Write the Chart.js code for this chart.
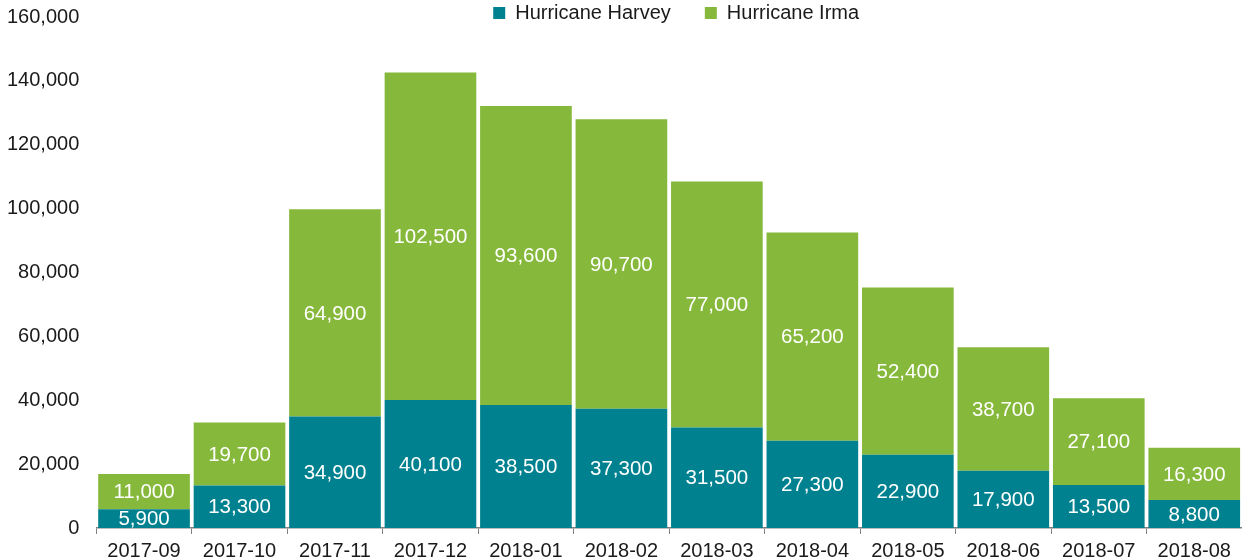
<!DOCTYPE html>
<html>
<head>
<meta charset="utf-8">
<script src="https://cdn.jsdelivr.net/npm/chart.js@4/dist/chart.umd.min.js"></script>
<style>
  html, body { margin: 0; padding: 0; background: #fff; }
  #wrap { width: 1242px; height: 560px; }
</style>
</head>
<body>
<div id="wrap"><canvas id="hurricaneChart"></canvas></div>
<script>
const months = ["2017-09", "2017-10", "2017-11", "2017-12", "2018-01", "2018-02",
                "2018-03", "2018-04", "2018-05", "2018-06", "2018-07", "2018-08"];
const harvey = [5900, 13300, 34900, 40100, 38500, 37300, 31500, 27300, 22900, 17900, 13500, 8800];
const irma = [11000, 19700, 64900, 102500, 93600, 90700, 77000, 65200, 52400, 38700, 27100, 16300];
const yMax = 160000;
const yStep = 20000;

const FONT = '"Liberation Sans", Arial, sans-serif';

// white value labels in the middle of each segment
const barLabels = {
    id: "barLabels",
    afterDatasetsDraw(chart) {
        const ctx = chart.ctx;
        ctx.save();
        ctx.fillStyle = "#ffffff";
        ctx.font = "20.5px " + FONT;
        ctx.textAlign = "center";
        ctx.textBaseline = "middle";
        chart.data.datasets.forEach((ds, i) => {
            chart.getDatasetMeta(i).data.forEach((bar, j) => {
                const mid = (bar.y + bar.base) / 2;
                ctx.fillText(ds.data[j].toLocaleString("en-US"), bar.x, mid + 1);
            });
        });
        ctx.restore();
    },
};

// legend sits level with the top tick, so pull it up after layout
const legendUp = {
    id: "legendUp",
    afterLayout(chart) {
        const lg = chart.legend;
        const h = lg.bottom - lg.top;
        lg.top = 13 - lg.options.labels.padding - 10;
        lg.bottom = lg.top + h;
        lg.left += 7;
        lg.right += 7;
    },
};

const ctx = document.getElementById("hurricaneChart").getContext("2d");
new Chart(ctx, {
    type: "bar",
    data: {
        labels: months,
        datasets: [
            {
                label: "Hurricane Harvey",
                data: harvey,
                backgroundColor: "#00818F",
                barPercentage: 0.96,
                categoryPercentage: 1,
            },
            {
                label: "Hurricane Irma",
                data: irma,
                backgroundColor: "#86B93B",
                barPercentage: 0.96,
                categoryPercentage: 1,
            },
        ],
    },
    options: {
        responsive: true,
        maintainAspectRatio: false,
        animation: false,
        layout: { padding: { top: -66, right: 0, left: -2, bottom: -8 } },
        scales: {
            x: {
                stacked: true,
                grid: {
                    display: true,
                    drawOnChartArea: false,
                    offset: true,
                    tickLength: 6,
                    color: "#808080",
                },
                border: { display: true, color: "#808080", width: 1.5 },
                ticks: {
                    color: "#1a1a1a",
                    font: { family: FONT, size: 20 },
                    padding: 5,
                    maxRotation: 0,
                },
            },
            y: {
                stacked: true,
                min: 0,
                max: yMax,
                grid: { display: false },
                border: { display: false },
                ticks: {
                    stepSize: yStep,
                    color: "#1a1a1a",
                    font: { family: FONT, size: 20, lineHeight: 0.8 },
                    padding: 9,
                    callback: (v) => v.toLocaleString("en-US"),
                },
            },
        },
        plugins: {
            legend: {
                position: "top",
                align: "center",
                fullSize: false,
                labels: {
                    boxWidth: 12,
                    boxHeight: 12,
                    padding: 34,
                    color: "#1a1a1a",
                    font: { family: FONT, size: 20 },
                },
            },
            tooltip: { enabled: false },
        },
    },
    plugins: [barLabels, legendUp],
});
</script>
</body>
</html>
